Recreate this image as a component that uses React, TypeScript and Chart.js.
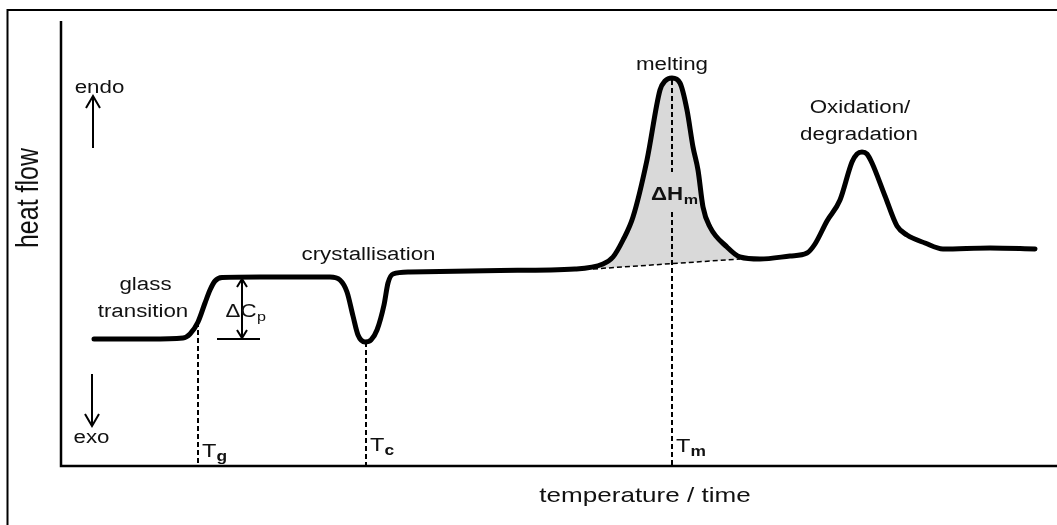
import React, { useEffect, useRef } from 'react';
import { Chart, registerables } from 'chart.js';

Chart.register(...registerables);

// DSC curve (x: temperature/time units, y: heat flow units)
const tempX = [33, 89, 122, 129, 137, 144, 149, 154, 161, 199, 269, 279, 286, 292, 297, 304, 310, 316, 323, 327, 332, 349, 439, 514, 542, 552, 562, 572, 586, 599, 604, 611, 619, 626, 632, 637, 642, 649, 666, 679, 699, 729, 746, 754, 766, 779, 791, 796, 801, 806, 811, 824, 836, 846, 864, 882, 929, 974];
const heatFlow = [127, 127, 128, 132, 144, 163, 176, 185, 188.5, 189, 189, 186, 174, 150, 131, 124, 126, 136, 161, 183, 192, 194, 195.5, 197, 202, 209, 226, 249, 306, 376, 385, 388, 383, 356, 319, 296, 259, 239, 219, 209, 207, 210, 213, 222, 245, 266, 304, 312, 314, 312, 303, 270, 240, 231, 223, 217, 218, 217];

// Melting baseline (dashed) bounding the ΔHm area
const baselineX = [532, 679];
const baselineY = [197, 207];

// Characteristic temperatures: Tg, Tc, Tm
const transitionNames = ['g', 'c', 'm'];
const transitionX = [137, 305, 611];
const transitionTop = [144, 124, 386];
const meltLabelGap = [294, 254];

// ΔCp step
const cpLow = 127;
const cpHigh = 188;

const FAMILY = '"Liberation Sans", Arial, Helvetica, sans-serif';
const SX = 1.24;

function txt(ctx: CanvasRenderingContext2D, s: string, x: number, y: number, font: string, align: CanvasTextAlign = 'center') {
  ctx.save();
  ctx.translate(x, y);
  ctx.scale(SX, 1);
  ctx.font = font;
  ctx.textAlign = align;
  ctx.textBaseline = 'alphabetic';
  ctx.fillText(s, 0, 0);
  const w = ctx.measureText(s).width * SX;
  ctx.restore();
  return w;
}

function head(ctx: CanvasRenderingContext2D, x: number, y: number, dir: number, hw: number, len: number) {
  ctx.beginPath();
  ctx.moveTo(x - hw, y + dir * len);
  ctx.lineTo(x, y);
  ctx.lineTo(x + hw, y + dir * len);
  ctx.stroke();
}

const overlay = {
  id: 'overlay',
  afterDraw(chart: any) {
    const { ctx, chartArea: a } = chart;
    const xs = chart.scales.x;
    const ys = chart.scales.y;
    const px = (v: number) => xs.getPixelForValue(v);
    const py = (v: number) => ys.getPixelForValue(v);
    ctx.save();
    ctx.strokeStyle = '#000';
    ctx.fillStyle = '#111';
    // outer frame
    ctx.lineWidth = 2;
    ctx.strokeRect(7.5, 10, 3000, 3000);
    // axes
    ctx.lineWidth = 2.5;
    ctx.beginPath();
    ctx.moveTo(a.left, a.top);
    ctx.lineTo(a.left, a.bottom);
    ctx.lineTo(chart.width, a.bottom);
    ctx.stroke();

    // endo / exo arrows
    ctx.lineWidth = 2;
    ctx.lineCap = 'butt';
    ctx.beginPath();
    ctx.moveTo(px(32), py(318));
    ctx.lineTo(px(32), py(370));
    ctx.stroke();
    head(ctx, px(32), py(370), 1, 7, 12);
    ctx.beginPath();
    ctx.moveTo(px(31), py(92));
    ctx.lineTo(px(31), py(40));
    ctx.stroke();
    head(ctx, px(31), py(40), -1, 7, 12);

    // ΔCp arrow
    ctx.beginPath();
    ctx.moveTo(px(181), py(cpHigh) + 1);
    ctx.lineTo(px(181), py(cpLow) - 1);
    ctx.stroke();
    head(ctx, px(181), py(cpHigh) + 1, 1, 5, 8);
    head(ctx, px(181), py(cpLow) - 1, -1, 5, 8);
    ctx.beginPath();
    ctx.moveTo(px(156), py(cpLow));
    ctx.lineTo(px(199), py(cpLow));
    ctx.stroke();

    const f = (s: number, b = false) => `${b ? 'bold ' : ''}${s}px ${FAMILY}`;
    txt(ctx, 'endo', px(38.5), py(373), f(18));
    txt(ctx, 'exo', px(30.5), py(23), f(18));
    txt(ctx, 'glass', px(84.5), py(176), f(18));
    txt(ctx, 'transition', px(82), py(149), f(18));
    let w = txt(ctx, 'ΔC', px(164.5), py(149), f(18), 'left');
    txt(ctx, 'p', px(164.5) + w + 0.5, py(149) + 4, f(13), 'left');
    txt(ctx, 'crystallisation', px(307.5), py(206), f(18));
    txt(ctx, 'melting', px(611), py(396), f(18));
    w = txt(ctx, 'ΔH', px(590), py(266), f(18, true), 'left');
    txt(ctx, 'm', px(590) + w + 0.5, py(266) + 4, f(13, true), 'left');
    txt(ctx, 'Oxidation/', px(799), py(353), f(18));
    txt(ctx, 'degradation', px(798), py(326), f(18));

    const tBase = [9, 15, 14];
    transitionNames.forEach((n, i) => {
      const lx = px(transitionX[i]) + 4;
      const by = py(tBase[i]);
      const tw = txt(ctx, 'T', lx, by, f(19), 'left');
      txt(ctx, n, lx + tw, by + 4, f(14, true), 'left');
    });

    // axis titles
    txt(ctx, 'temperature / time', 645, a.bottom + 35.5, f(21));
    ctx.save();
    ctx.translate(38, 198);
    ctx.scale(SX, 1);
    ctx.rotate(-Math.PI / 2);
    ctx.font = f(25);
    ctx.textAlign = 'center';
    ctx.textBaseline = 'alphabetic';
    ctx.fillText('heat flow', 0, 0);
    ctx.restore();

    ctx.restore();
  },
};

export default function App() {
  const ref = useRef<HTMLCanvasElement | null>(null);
  useEffect(() => {
    if (!ref.current) return;
    const curve = tempX.map((x, i) => ({ x, y: heatFlow[i] }));
    const fillPts = [
      { x: baselineX[0], y: baselineY[0] },
      ...curve.filter((p) => p.x > baselineX[0] && p.x < baselineX[1]),
      { x: baselineX[1], y: baselineY[1] },
    ];
    const dashed = transitionNames.map((n, i) => {
      const data: any[] =
        n === 'm'
          ? [
              { x: transitionX[i], y: transitionTop[i] },
              { x: transitionX[i], y: meltLabelGap[0] },
              { x: transitionX[i], y: null },
              { x: transitionX[i], y: meltLabelGap[1] },
              { x: transitionX[i], y: 0 },
            ]
          : [
              { x: transitionX[i], y: transitionTop[i] },
              { x: transitionX[i], y: 0 },
            ];
      return {
        label: 'T' + n,
        data,
        showLine: true,
        borderColor: '#000',
        borderWidth: 2,
        borderDash: [5, 3],
        pointRadius: 0,
        spanGaps: false,
        order: 1,
      };
    });
    const chart = new Chart(ref.current, {
      type: 'scatter',
      data: {
        datasets: [
          {
            label: 'heat flow',
            data: curve,
            showLine: true,
            borderColor: '#000',
            borderWidth: 5,
            cubicInterpolationMode: 'monotone',
            pointRadius: 0,
            borderCapStyle: 'round',
            borderJoinStyle: 'round',
            order: 0,
          } as any,
          {
            label: 'ΔHm',
            data: fillPts,
            showLine: true,
            borderColor: 'rgba(0,0,0,0)',
            borderWidth: 0,
            backgroundColor: '#d9d9d9',
            fill: { target: 2, above: '#d9d9d9', below: '#d9d9d9' },
            cubicInterpolationMode: 'monotone',
            pointRadius: 0,
            order: 3,
          } as any,
          {
            label: 'baseline',
            data: baselineX.map((x, i) => ({ x, y: baselineY[i] })),
            showLine: true,
            borderColor: '#000',
            borderWidth: 1.5,
            borderDash: [5, 3],
            pointRadius: 0,
            order: 2,
          } as any,
          ...(dashed as any[]),
        ],
      },
      options: {
        animation: false,
        responsive: false,
        events: [],
        layout: { padding: { left: 61, top: 21, right: 0, bottom: 59 } },
        plugins: { legend: { display: false }, tooltip: { enabled: false } },
        scales: {
          x: { type: 'linear', min: 0, max: 996, display: false },
          y: { type: 'linear', min: 0, max: 445, display: false },
        },
      },
      plugins: [overlay],
    });
    return () => chart.destroy();
  }, []);
  return (
    <div style={{ position: 'absolute', left: 0, top: 0, width: 1057, height: 525, background: '#fff' }}>
      <canvas ref={ref} width={1057} height={525} style={{ display: 'block' }} />
    </div>
  );
}
